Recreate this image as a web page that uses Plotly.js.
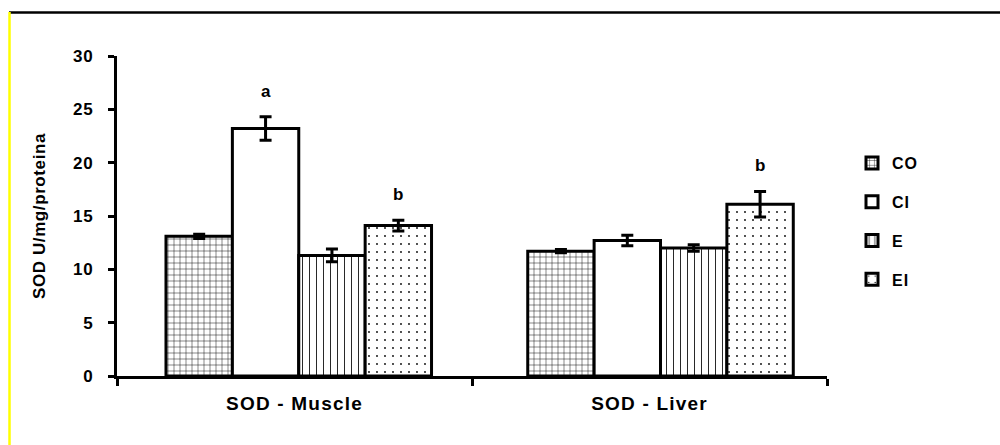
<!DOCTYPE html>
<html>
<head>
<meta charset="utf-8">
<script src="https://cdn.plot.ly/plotly-3.0.1.min.js"></script>
<style>
html,body{margin:0;padding:0;background:#fff;}
#chart{width:1000px;height:445px;}
#chart .xtick text{letter-spacing:1.2px;}
#chart .ytick text{letter-spacing:0.8px;}
#chart .ytitle{letter-spacing:0.6px;}
#chart .legendtext{letter-spacing:1px;}
</style>
</head>
<body>
<div id="chart"></div>
<script>
const categories = ['SOD - Muscle', 'SOD - Liver'];
const seriesNames = ['CO', 'CI', 'E', 'EI'];
const values = {
  CO: [13.1, 11.7],
  CI: [23.2, 12.7],
  E:  [11.3, 12.0],
  EI: [14.1, 16.1]
};
const errors = {
  CO: [0.2, 0.15],
  CI: [1.1, 0.5],
  E:  [0.6, 0.3],
  EI: [0.5, 1.2]
};
const letters = {
  CO: ['', ''],
  CI: ['a', ''],
  E:  ['', ''],
  EI: ['b', 'b']
};
const yTicks = [0, 5, 10, 15, 20, 25, 30];

const patterns = {
  CO: {shape: '+', size: 6, solidity: 0.15},
  CI: {shape: '', size: 8, solidity: 0.2},
  E:  {shape: '|', size: 7, solidity: 0.12},
  EI: {shape: '.', size: 8, solidity: 0.04}
};

// group placement (axis units relative to category centre)
const groupStart = [-0.362, -0.343];
const barW = 0.187;

const font = 'Liberation Sans, Arial, sans-serif';

const traces = seriesNames.map((s, i) => ({
  type: 'bar',
  name: s,
  legendgroup: s,
  x: categories,
  y: values[s],
  offset: groupStart.map(g => g + i * barW),
  width: barW,
  error_y: {type: 'data', array: errors[s], visible: true, color: '#000', thickness: 3, width: 6},
  marker: {
    color: '#fff',
    line: {color: '#000', width: 3},
    pattern: {shape: patterns[s].shape, fgcolor: '#000', bgcolor: '#fff', size: patterns[s].size, solidity: patterns[s].solidity, fillmode: 'replace'}
  },
  hoverinfo: 'skip'
}));

const annotations = [];
seriesNames.forEach((s, i) => {
  categories.forEach((c, j) => {
    if (letters[s][j]) {
      annotations.push({
        x: j + groupStart[j] + (i + 0.5) * barW,
        y: values[s][j] + errors[s][j] + 2.4,
        xref: 'x', yref: 'y',
        text: letters[s][j],
        showarrow: false,
        font: {family: font, size: 17, color: '#000', weight: 'bold'}
      });
    }
  });
});

const L = 117, R = 827, T = 56, B = 376;
const px2paperX = p => (p - L) / (R - L);
const px2paperY = p => (B - p) / (B - T);

const shapes = [
  {type: 'line', xref: 'paper', yref: 'paper', x0: px2paperX(9), x1: px2paperX(1001), y0: px2paperY(12.5), y1: px2paperY(12.5), line: {color: '#000', width: 2.5}},
  {type: 'line', xref: 'paper', yref: 'paper', x0: px2paperX(9.5), x1: px2paperX(9.5), y0: px2paperY(12), y1: px2paperY(446), line: {color: '#ffff00', width: 2.5}}
];

const layout = {
  width: 1000, height: 445,
  margin: {l: L, r: 1000 - R, t: T, b: 445 - B},
  paper_bgcolor: '#fff', plot_bgcolor: '#fff',
  barmode: 'group',
  showlegend: true,
  legend: {
    x: px2paperX(852), y: px2paperY(146), xanchor: 'left', yanchor: 'top',
    traceorder: 'grouped', tracegroupgap: 15,
    font: {family: font, size: 16, color: '#000', weight: 'bold'},
    itemwidth: 30, bgcolor: 'rgba(0,0,0,0)'
  },
  xaxis: {
    type: 'category',
    range: [-0.5, 1.5],
    showline: true, linecolor: '#000', linewidth: 3,
    ticks: 'outside', tickson: 'boundaries', ticklen: 7, tickwidth: 3, tickcolor: '#000',
    ticklabelstandoff: 8,
    tickfont: {family: font, size: 19, color: '#000', weight: 'bold'},
    showgrid: false, zeroline: false, fixedrange: true
  },
  yaxis: {
    range: [0, 30],
    tickvals: yTicks, ticktext: yTicks.map(String),
    showline: true, linecolor: '#000', linewidth: 3,
    ticks: 'outside', ticklen: 6, tickwidth: 3, tickcolor: '#000',
    ticklabelstandoff: 11,
    tickfont: {family: font, size: 17, color: '#000', weight: 'bold'},
    title: {text: 'SOD U/mg/proteina', font: {family: font, size: 17, color: '#000', weight: 'bold'}, standoff: 25},
    showgrid: false, zeroline: false, fixedrange: true
  },
  annotations: annotations,
  shapes: shapes
};

Plotly.newPlot('chart', traces, layout, {displayModeBar: false, staticPlot: true});
</script>
</body>
</html>
